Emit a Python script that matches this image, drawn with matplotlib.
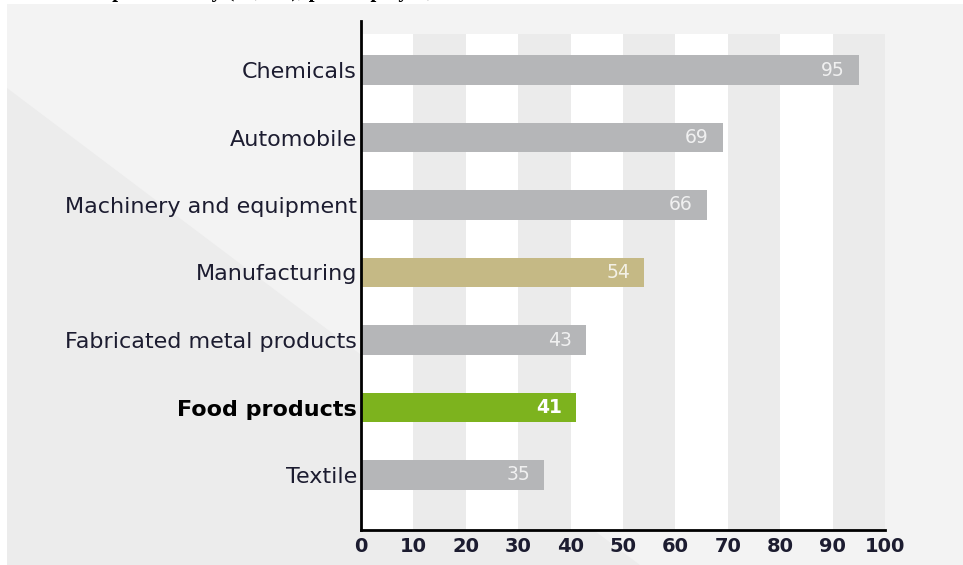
import numpy as np
import matplotlib.pyplot as plt
from matplotlib.patches import Rectangle, Polygon

# sectors, top to bottom
sectors = ["Chemicals", "Automobile", "Machinery and equipment", "Manufacturing",
           "Fabricated metal products", "Food products", "Textile"]
productivity = [95, 69, 66, 54, 43, 41, 35]
bar_colors = ["#b5b6b8", "#b5b6b8", "#b5b6b8", "#c5b985",
              "#b5b6b8", "#7db31e", "#b5b6b8"]
bold_sector = "Food products"
xticks = list(range(0, 101, 10))

W, H = 963, 565
fig = plt.figure(figsize=(W / 100, H / 100), dpi=100)
fig.patch.set_facecolor("white")

def fx(px):
    return px / W

def fy(py):
    return 1 - py / H

# light panel with a slightly darker diagonal corner
fig.patches.append(Rectangle((fx(7), 0), 1 - fx(7), fy(4), transform=fig.transFigure,
                             facecolor="#f3f3f3", edgecolor="none", zorder=-3))
fig.patches.append(Polygon([(fx(7), fy(88)), (fx(640), fy(565)), (fx(7), fy(565))],
                           closed=True, transform=fig.transFigure,
                           facecolor="#ececec", edgecolor="none", zorder=-2))

# title, mostly cut off by the top edge
fig.text(fx(40), 1 + 3.0 / H, "Labour productivity (€1,000), per employee, 2012",
         fontsize=15, fontweight="bold", family="Liberation Serif",
         ha="left", va="baseline", color="black")

# axes placement in pixels
left, right, top, bottom = 361, 885, 21, 530
ax = fig.add_axes([fx(left), fy(bottom), fx(right) - fx(left), (bottom - top) / H])
ax.patch.set_alpha(0)

row_px = 67.5
y0_px = 70
y = np.arange(len(sectors))
ax.set_ylim(6 + (bottom - 475) / row_px, -(y0_px - top) / row_px)
ax.set_xlim(0, 100)

# alternating vertical bands
band_top = (bottom - 34) / (bottom - top)
for i in range(10):
    c = "white" if i % 2 == 0 else "#ebebeb"
    ax.axvspan(i * 10, (i + 1) * 10, ymin=0, ymax=band_top, color=c, lw=0, zorder=0)

ax.barh(y, productivity, height=0.43, color=bar_colors, zorder=2)

for yi, v, c in zip(y, productivity, bar_colors):
    strong = c == "#7db31e"
    ax.annotate(str(v), (v, yi), xytext=(-10, 0), textcoords="offset points",
                ha="right", va="center", fontsize=13.5,
                fontweight="bold" if strong else "normal",
                color="white", alpha=1.0 if strong else 0.8, zorder=3)

ax.set_yticks(y)
ax.set_yticklabels(sectors)
for lab in ax.get_yticklabels():
    lab.set_fontsize(16)
    lab.set_color("#1c1c30")
    if lab.get_text() == bold_sector:
        lab.set_fontweight("bold")
        lab.set_color("black")

ax.set_xticks(xticks)
ax.set_xticklabels([str(t) for t in xticks], fontsize=14, fontweight="bold", color="#1c1c30")
ax.tick_params(axis="both", length=0, pad=3)
ax.tick_params(axis="x", pad=5)

for s in ["top", "right"]:
    ax.spines[s].set_visible(False)
for s in ["left", "bottom"]:
    ax.spines[s].set_color("black")
    ax.spines[s].set_linewidth(2.0)
    ax.spines[s].set_zorder(4)

fig.savefig("out.png", dpi=100)
